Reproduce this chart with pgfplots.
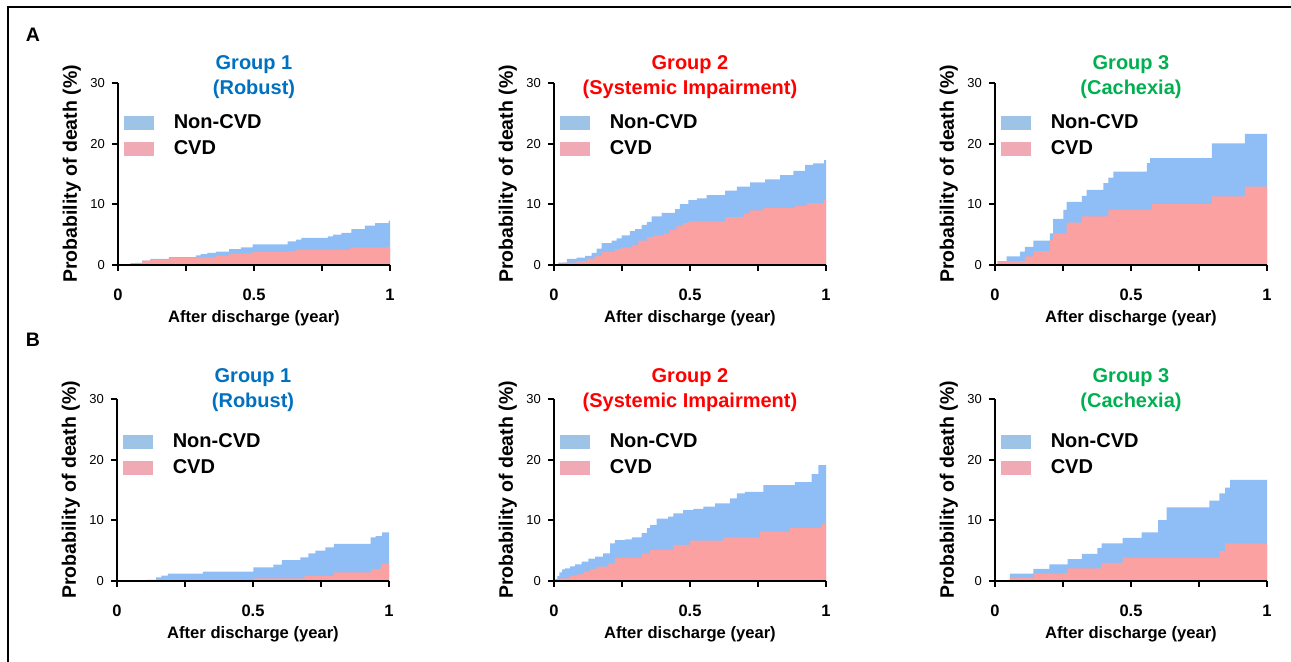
\documentclass[border=0pt]{standalone}
\usepackage{pgfplots}
\pgfplotsset{compat=1.18}
\usepackage{fontspec}
\setmainfont{Liberation Sans}
\definecolor{areablue}{RGB}{143,189,246}
\definecolor{areapink}{RGB}{251,161,161}
\definecolor{legblue}{RGB}{157,195,230}
\definecolor{legpink}{RGB}{240,170,182}
\definecolor{gone}{RGB}{0,112,192}
\definecolor{gtwo}{RGB}{255,0,0}
\definecolor{gthree}{RGB}{0,176,80}
\pgfplotsset{
 panel/.style={
  scale only axis, width=136pt, height=91pt,
  xmin=0,xmax=1,ymin=0,ymax=30,
  axis lines=left, axis line style={-, line width=1pt, black},
  axis on top,
  xtick={0,0.25,0.5,0.75,1}, xticklabels={0,,0.5,,1},
  ytick={0,10,20,30},
  tick align=outside, major tick length=3pt,
  tick style={black, line width=1pt},
  xticklabel style={font=\bfseries\fontsize{8.25}{9}\selectfont, yshift=-5.5pt},
  yticklabel style={font=\fontsize{6.5}{7}\selectfont},
  /pgf/number format/assume math mode=true,
  xlabel={After discharge (year)},
  ylabel={Probability of death (\%)},
  xlabel style={font=\bfseries\fontsize{8.3}{9}\selectfont, at={(axis description cs:0.5,-0.3187)}, anchor=base},
  ylabel style={font=\bfseries\fontsize{9.75}{11}\selectfont, at={(axis description cs:-0.17,0.5)}, anchor=center},
  title style={font=\bfseries\fontsize{10}{12.5}\selectfont, align=center, anchor=center},
  legend cell align=left,
  legend style={draw=none, fill=none, inner sep=0pt, outer sep=0pt, row sep=0pt, column sep=10pt,
     nodes={inner sep=0pt, minimum height=13pt}, font=\bfseries\fontsize{10}{12}\selectfont, anchor=north west},
 },
 rowA/.style={title style={at={(axis description cs:0.5,0.9643)}}, legend style={at={(axis description cs:0.022,0.8516)}}},
 rowB/.style={title style={at={(axis description cs:0.5,0.9816)}}, legend style={at={(axis description cs:0.022,0.835)}}},
 nonleg/.style={legend image code/.code={\fill[legblue] (0pt,-3.25pt) rectangle (14.5pt,3.25pt);}},
 cvdleg/.style={legend image code/.code={\fill[legpink] (0pt,-3.25pt) rectangle (14.5pt,3.25pt);}},
 blue area/.style={fill=areablue, draw=none, const plot, forget plot},
 pink area/.style={fill=areapink, draw=none, const plot, forget plot},
}
\begin{document}
\begin{tikzpicture}
\useasboundingbox (0,0) rectangle (645.5pt,331pt);
\draw[line width=0.7pt] (4pt,-10pt) -- (4pt,327.5pt) -- (660pt,327.5pt);
\node[font=\bfseries\fontsize{9.75}{11}\selectfont] at (16.5pt,313.5pt) {A};
\node[font=\bfseries\fontsize{9.75}{11}\selectfont] at (16.5pt,161pt) {B};

% ---------- A1 ----------
\begin{axis}[panel, rowA, at={(59pt,198.5pt)}, anchor=south west,
  title={\color{gone}Group 1\\\color{gone}(Robust)}]
\addlegendimage{nonleg}\addlegendentry{Non-CVD}
\addlegendimage{cvdleg}\addlegendentry{CVD}
\addplot[blue area] coordinates {(0,0) (0.046,0.3) (0.064,0.35) (0.089,0.7) (0.119,1.0) (0.187,1.3) (0.286,1.6) (0.304,1.8) (0.329,2.0) (0.36,2.2) (0.409,2.6) (0.452,2.9) (0.495,3.4) (0.624,3.9) (0.655,4.2) (0.674,4.45) (0.772,4.7) (0.791,5.0) (0.821,5.3) (0.858,5.9) (0.908,6.5) (0.945,6.9) (0.995,7.3) (1,7.3)} \closedcycle;
\addplot[pink area] coordinates {(0,0) (0.046,0.3) (0.089,0.7) (0.119,0.9) (0.187,1.15) (0.286,1.25) (0.36,1.5) (0.409,1.9) (0.495,2.1) (0.624,2.25) (0.655,2.5) (0.852,2.9) (0.995,3.1) (1,3.1)} \closedcycle;
\end{axis}

% ---------- A2 ----------
\begin{axis}[panel, rowA, at={(277pt,198.5pt)}, anchor=south west,
  title={\color{gtwo}Group 2\\\color{gtwo}(Systemic Impairment)}]
\addlegendimage{nonleg}\addlegendentry{Non-CVD}
\addlegendimage{cvdleg}\addlegendentry{CVD}
\addplot[blue area] coordinates {(0,0) (0.005,0.1) (0.016,0.4) (0.047,1.0) (0.083,1.2) (0.114,1.5) (0.138,2.0) (0.157,2.7) (0.175,3.6) (0.212,4.0) (0.230,4.4) (0.249,4.9) (0.279,5.6) (0.298,5.9) (0.322,6.6) (0.341,7.1) (0.359,8.0) (0.396,8.6) (0.445,9.2) (0.463,10.05) (0.494,10.7) (0.525,11.0) (0.561,11.5) (0.629,12.25) (0.672,12.9) (0.721,13.6) (0.776,14.1) (0.831,14.8) (0.880,15.5) (0.923,16.5) (0.953,16.75) (0.993,17.3) (1,17.3)} \closedcycle;
\addplot[pink area] coordinates {(0,0) (0.005,0.1) (0.034,0.4) (0.083,0.65) (0.12,1.05) (0.151,1.5) (0.175,2.1) (0.224,2.6) (0.249,2.9) (0.286,3.3) (0.31,4.0) (0.341,4.6) (0.365,4.9) (0.402,5.2) (0.426,5.8) (0.451,6.4) (0.475,6.9) (0.494,7.2) (0.629,7.9) (0.696,8.5) (0.721,9.0) (0.770,9.4) (0.886,9.7) (0.929,10.2) (0.99,10.7) (1,10.7)} \closedcycle;
\end{axis}

% ---------- A3 ----------
\begin{axis}[panel, rowA, at={(497.5pt,198.5pt)}, anchor=south west,
  title={\color{gthree}Group 3\\\color{gthree}(Cachexia)}]
\addlegendimage{nonleg}\addlegendentry{Non-CVD}
\addlegendimage{cvdleg}\addlegendentry{CVD}
\addplot[blue area] coordinates {(0,0) (0.01,0.65) (0.043,1.4) (0.092,2.2) (0.110,3.0) (0.141,4.0) (0.202,5.2) (0.214,7.6) (0.251,9.1) (0.263,10.4) (0.319,11.4) (0.337,12.4) (0.398,13.5) (0.417,14.4) (0.435,15.4) (0.558,16.8) (0.570,17.6) (0.797,20.05) (0.919,21.6) (1,21.6)} \closedcycle;
\addplot[pink area] coordinates {(0,0) (0.01,0.65) (0.110,1.4) (0.141,2.3) (0.202,4.1) (0.214,5.2) (0.263,7.0) (0.319,8.0) (0.417,9.1) (0.576,10.05) (0.797,11.3) (0.919,12.9) (1,12.9)} \closedcycle;
\end{axis}

% ---------- B1 ----------
\begin{axis}[panel, rowB, at={(58.5pt,40.5pt)}, anchor=south west,
  title={\color{gone}Group 1\\\color{gone}(Robust)}]
\addlegendimage{nonleg}\addlegendentry{Non-CVD}
\addlegendimage{cvdleg}\addlegendentry{CVD}
\addplot[blue area] coordinates {(0,0.1) (0.107,0.2) (0.144,0.6) (0.163,0.9) (0.187,1.2) (0.316,1.55) (0.501,2.25) (0.575,2.7) (0.606,3.45) (0.674,3.9) (0.704,4.55) (0.729,5.0) (0.766,5.55) (0.797,6.1) (0.932,7.2) (0.951,7.4) (0.975,8.0) (1,8.0)} \closedcycle;
\addplot[pink area] coordinates {(0,0.1) (0.107,0.2) (0.501,0.45) (0.69,0.8) (0.797,1.4) (0.935,2.0) (0.97,2.9) (1,2.9)} \closedcycle;
\end{axis}

% ---------- B2 ----------
\begin{axis}[panel, rowB, at={(277pt,40.5pt)}, anchor=south west,
  title={\color{gtwo}Group 2\\\color{gtwo}(Systemic Impairment)}]
\addlegendimage{nonleg}\addlegendentry{Non-CVD}
\addlegendimage{cvdleg}\addlegendentry{CVD}
\addplot[blue area] coordinates {(0,0) (0.005,0.3) (0.012,0.8) (0.02,1.4) (0.03,1.9) (0.040,2.1) (0.059,2.4) (0.077,2.75) (0.102,3.2) (0.126,3.7) (0.151,4.0) (0.181,4.55) (0.206,6.2) (0.224,6.75) (0.261,6.85) (0.286,7.2) (0.322,7.9) (0.341,8.7) (0.353,9.2) (0.377,10.3) (0.420,10.6) (0.439,11.15) (0.475,11.7) (0.512,11.9) (0.549,12.25) (0.592,12.8) (0.647,13.6) (0.672,14.45) (0.702,14.7) (0.770,15.8) (0.886,16.3) (0.947,17.6) (0.972,19.1) (1,19.1)} \closedcycle;
\addplot[pink area] coordinates {(0,0) (0.005,0.15) (0.022,0.45) (0.059,0.8) (0.083,1.1) (0.108,1.55) (0.132,2.0) (0.157,2.35) (0.2,2.9) (0.224,3.75) (0.322,4.55) (0.353,5.1) (0.439,5.95) (0.5,6.65) (0.623,7.2) (0.757,8.15) (0.868,8.7) (0.984,9.5) (1,9.5)} \closedcycle;
\end{axis}

% ---------- B3 ----------
\begin{axis}[panel, rowB, at={(497.5pt,40.5pt)}, anchor=south west,
  title={\color{gthree}Group 3\\\color{gthree}(Cachexia)}]
\addlegendimage{nonleg}\addlegendentry{Non-CVD}
\addlegendimage{cvdleg}\addlegendentry{CVD}
\addplot[blue area] coordinates {(0,0.05) (0.055,1.2) (0.141,2.0) (0.2,2.75) (0.267,3.6) (0.319,4.45) (0.376,5.4) (0.392,6.2) (0.469,7.1) (0.539,8.0) (0.600,10.05) (0.631,12.15) (0.788,13.25) (0.825,14.45) (0.846,15.4) (0.864,16.65) (1,16.65)} \closedcycle;
\addplot[pink area] coordinates {(0,0.05) (0.055,0.55) (0.141,1.25) (0.267,2.1) (0.392,3.0) (0.469,3.85) (0.825,4.95) (0.846,6.2) (1,6.2)} \closedcycle;
\end{axis}
\end{tikzpicture}
\end{document}
